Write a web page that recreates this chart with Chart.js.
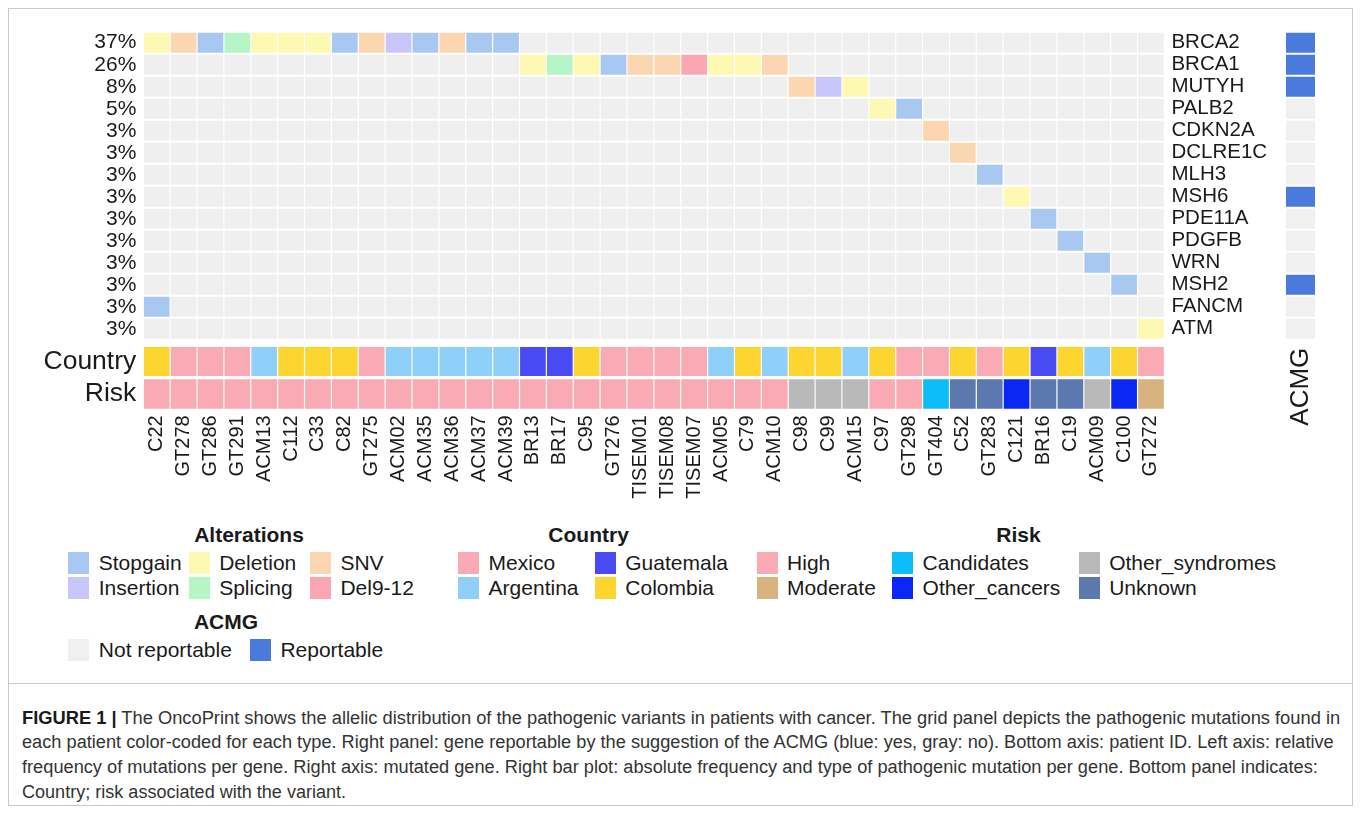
<!DOCTYPE html>
<html>
<head>
<meta charset="utf-8">
<title>OncoPrint</title>
<script src="https://cdn.jsdelivr.net/npm/chart.js@4.4.1/dist/chart.umd.min.js"></script>
<style>
  html, body { margin:0; padding:0; background:#ffffff; }
  body { width:1360px; height:814px; position:relative; overflow:hidden; font-family:"Liberation Sans", Arial, Helvetica, sans-serif; color:#1a1a1a; }
  #frame { position:absolute; left:8px; top:8px; width:1345px; height:798px; border:1px solid #c9c9c9; box-sizing:border-box; }
  #divider { position:absolute; left:8px; top:683px; width:1345px; height:1px; background:#c9c9c9; }
  #mainChart { position:absolute; left:0; top:0; width:1270px; height:520px; }
  #acmgChart { position:absolute; left:1270px; top:0; width:97px; height:440px; }
  .lg-title { position:absolute; font-weight:bold; font-size:21px; line-height:24px; white-space:nowrap; transform:translate(-50%,-50%); }
  .lg-item { position:absolute; height:22px; display:flex; align-items:center; white-space:nowrap; font-size:21px; line-height:22px; transform:translateY(-50%); }
  .lg-key { width:21px; height:22px; margin-right:9.6px; flex:none; }
  .cap-line { position:absolute; left:22px; white-space:nowrap; font-family:"Liberation Sans Narrow","Liberation Sans",Arial,sans-serif; font-size:18px; line-height:22px; color:#333; transform-origin:0 50%; }
  .cap-line b { color:#1a1a1a; }
</style>
</head>
<body>
<div id="frame"></div>
<div id="divider"></div>
<canvas id="mainChart" width="1270" height="520"></canvas>
<canvas id="acmgChart" width="97" height="440"></canvas>
<div id="legends"></div>
<div id="caption"></div>
<script>
// ---------------- DATA ----------------
const patients = ['C22','GT278','GT286','GT291','ACM13','C112','C33','C82','GT275','ACM02','ACM35','ACM36','ACM37','ACM39','BR13','BR17','C95','GT276','TISEM01','TISEM08','TISEM07','ACM05','C79','ACM10','C98','C99','ACM15','C97','GT298','GT404','C52','GT283','C121','BR16','C19','ACM09','C100','GT272'];

const genes = ['BRCA2','BRCA1','MUTYH','PALB2','CDKN2A','DCLRE1C','MLH3','MSH6','PDE11A','PDGFB','WRN','MSH2','FANCM','ATM'];
const geneFrequency = ['37%','26%','8%','5%','3%','3%','3%','3%','3%','3%','3%','3%','3%','3%'];
const acmgStatus = ['Reportable','Reportable','Reportable','Not reportable','Not reportable','Not reportable','Not reportable','Reportable','Not reportable','Not reportable','Not reportable','Reportable','Not reportable','Not reportable'];

// one entry per pathogenic variant
const variantGene = [
  'BRCA2','BRCA2','BRCA2','BRCA2','BRCA2','BRCA2','BRCA2','BRCA2','BRCA2','BRCA2','BRCA2','BRCA2','BRCA2','BRCA2',
  'BRCA1','BRCA1','BRCA1','BRCA1','BRCA1','BRCA1','BRCA1','BRCA1','BRCA1','BRCA1',
  'MUTYH','MUTYH','MUTYH','PALB2','PALB2',
  'CDKN2A','DCLRE1C','MLH3','MSH6','PDE11A','PDGFB','WRN','MSH2','FANCM','ATM'];
const variantPatient = [
  'C22','GT278','GT286','GT291','ACM13','C112','C33','C82','GT275','ACM02','ACM35','ACM36','ACM37','ACM39',
  'BR13','BR17','C95','GT276','TISEM01','TISEM08','TISEM07','ACM05','C79','ACM10',
  'C98','C99','ACM15','C97','GT298',
  'GT404','C52','GT283','C121','BR16','C19','ACM09','C100','C22','GT272'];
const variantType = [
  'Deletion','SNV','Stopgain','Splicing','Deletion','Deletion','Deletion','Stopgain','SNV','Insertion','Stopgain','SNV','Stopgain','Stopgain',
  'Deletion','Splicing','Deletion','Stopgain','SNV','SNV','Del9-12','Deletion','Deletion','SNV',
  'SNV','Insertion','Deletion','Deletion','Stopgain',
  'SNV','SNV','Stopgain','Deletion','Stopgain','Stopgain','Stopgain','Stopgain','Stopgain','Deletion'];

const patientCountry = ['Colombia','Mexico','Mexico','Mexico','Argentina','Colombia','Colombia','Colombia','Mexico','Argentina','Argentina','Argentina','Argentina','Argentina','Guatemala','Guatemala','Colombia','Mexico','Mexico','Mexico','Mexico','Argentina','Colombia','Argentina','Colombia','Colombia','Argentina','Colombia','Mexico','Mexico','Colombia','Mexico','Colombia','Guatemala','Colombia','Argentina','Colombia','Mexico'];
const patientRisk = ['High','High','High','High','High','High','High','High','High','High','High','High','High','High','High','High','High','High','High','High','High','High','High','High','Other_syndromes','Other_syndromes','Other_syndromes','High','High','Candidates','Unknown','Unknown','Other_cancers','Unknown','Unknown','Other_syndromes','Other_cancers','Moderate'];

const alterationLegend = ['Stopgain','Insertion','Deletion','Splicing','SNV','Del9-12'];
const countryLegend = ['Mexico','Argentina','Guatemala','Colombia'];
const riskLegend = ['High','Moderate','Candidates','Other_cancers','Other_syndromes','Unknown'];
const acmgLegend = ['Not reportable','Reportable'];

const captionLines = [
  ['FIGURE 1 |', ' The OncoPrint shows the allelic distribution of the pathogenic variants in patients with cancer. The grid panel depicts the pathogenic mutations found in'],
  ['', 'each patient color-coded for each type. Right panel: gene reportable by the suggestion of the ACMG (blue: yes, gray: no). Bottom axis: patient ID. Left axis: relative'],
  ['', 'frequency of mutations per gene. Right axis: mutated gene. Right bar plot: absolute frequency and type of pathogenic mutation per gene. Bottom panel indicates:'],
  ['', 'Country; risk associated with the variant.']
];

// ---------------- STYLES ----------------
const alterationColors = {Stopgain:'#a8c8f2', Insertion:'#c8c6fa', Deletion:'#fdf8b2', Splicing:'#b6f5c6', SNV:'#fbd6b0', 'Del9-12':'#fba7b3'};
const countryColors = {Mexico:'#f9aab4', Argentina:'#8fd0fa', Guatemala:'#4a4af5', Colombia:'#fcd531'};
const riskColors = {High:'#f9aab4', Moderate:'#d8b27f', Candidates:'#0dbdf9', Other_cancers:'#0b27f5', Other_syndromes:'#b9b9b9', Unknown:'#5b79ae'};
const acmgColors = {'Not reportable':'#f0f0f0', Reportable:'#4a7bdc'};
const EMPTY_CELL = '#efefef';
const TEXT = '#1a1a1a';
const FONT = '"Liberation Sans", Arial, Helvetica, sans-serif';

// ---------------- LAYOUT ----------------
const L = {
  gridTop: 31.7, rowPitch: 22, gap: 1/22,
  countryBand: [14.33, 15.65], riskBand: [15.8, 17.13], yMax: 17.16,
  gridLeft: 143.3, gridRight: 1164.4, canvasW: 1270, canvasH: 520, xAxisH: 520 - 409.3,
  acmgH: 440
};

Chart.defaults.font.family = FONT;
Chart.defaults.color = TEXT;

function alterationOf(gene, patient) {
  for (let k = 0; k < variantGene.length; k++) {
    if (variantGene[k] === gene && variantPatient[k] === patient) return variantType[k];
  }
  return null;
}

const cellBase = { grouped:false, barPercentage:0.956, categoryPercentage:1, borderWidth:0, inflateAmount:0 };

const geneDatasets = genes.map((g, i) => Object.assign({
  label: g,
  data: patients.map(() => [i + L.gap, i + 1 - L.gap]),
  backgroundColor: patients.map(p => { const t = alterationOf(g, p); return t ? alterationColors[t] : EMPTY_CELL; })
}, cellBase));

const countryDataset = Object.assign({
  label: 'Country',
  data: patients.map(() => L.countryBand.slice()),
  backgroundColor: patientCountry.map(c => countryColors[c])
}, cellBase);

const riskDataset = Object.assign({
  label: 'Risk',
  data: patients.map(() => L.riskBand.slice()),
  backgroundColor: patientRisk.map(r => riskColors[r])
}, cellBase);

const leftTickValues = genes.map((g, i) => i + 0.5).concat([
  (L.countryBand[0] + L.countryBand[1]) / 2, (L.riskBand[0] + L.riskBand[1]) / 2]);
const leftTickLabels = geneFrequency.concat(['Country', 'Risk']);

new Chart(document.getElementById('mainChart'), {
  type: 'bar',
  data: { labels: patients, datasets: geneDatasets.concat([countryDataset, riskDataset]) },
  options: {
    responsive: false, animation: false, devicePixelRatio: 1,
    layout: { padding: { top: L.gridTop, left: 0, right: 0, bottom: 0 } },
    plugins: { legend: { display: false }, tooltip: { enabled: false } },
    scales: {
      x: {
        type: 'category', offset: true,
        grid: { display: false, drawTicks: false }, border: { display: false },
        ticks: { autoSkip: false, maxRotation: 90, minRotation: 90, padding: 6, color: TEXT, font: { size: 20 } },
        afterFit(s) { s.height = L.xAxisH; }
      },
      y: {
        type: 'linear', position: 'left', reverse: true, min: 0, max: L.yMax,
        grid: { display: false, drawTicks: false }, border: { display: false },
        afterBuildTicks(s) { s.ticks = leftTickValues.map(v => ({ value: v })); },
        ticks: {
          autoSkip: false, padding: 7, color: TEXT,
          font: (ctx) => ({ size: ctx.index >= genes.length ? 26.5 : 21 }),
          callback: (v, i) => leftTickLabels[i]
        },
        afterFit(s) { s.width = L.gridLeft; }
      },
      y2: {
        type: 'linear', position: 'right', reverse: true, min: 0, max: L.yMax,
        grid: { display: false, drawTicks: false }, border: { display: false },
        afterBuildTicks(s) { s.ticks = genes.map((g, i) => ({ value: i + 0.5 })); },
        ticks: { autoSkip: false, padding: 7, color: TEXT, font: { size: 20.5 }, callback: (v, i) => genes[i] },
        afterFit(s) { s.width = L.canvasW - L.gridRight; }
      }
    }
  }
});

// ACMG side panel (chart area x: 1286..1315 on the page)
new Chart(document.getElementById('acmgChart'), {
  type: 'bar',
  data: {
    labels: ['ACMG'],
    datasets: genes.map((g, i) => ({
      label: g, data: [[i + L.gap, i + 1 - L.gap]],
      backgroundColor: acmgColors[acmgStatus[i]],
      grouped: false, barPercentage: 1, categoryPercentage: 1, borderWidth: 0, inflateAmount: 0
    }))
  },
  options: {
    responsive: false, animation: false, devicePixelRatio: 1,
    layout: { padding: { top: L.gridTop, left: 16, right: 52, bottom: 0 } },
    plugins: { legend: { display: false }, tooltip: { enabled: false } },
    scales: {
      x: {
        grid: { display: false, drawTicks: false }, border: { display: false },
        ticks: { autoSkip: false, maxRotation: 90, minRotation: 90, padding: 8, color: TEXT, font: { size: 26 } },
        afterFit(s) { s.height = L.acmgH - L.gridTop - genes.length * L.rowPitch; }
      },
      y: { display: false, reverse: true, min: 0, max: genes.length }
    }
  }
});

// ---------------- LEGENDS ----------------
const legendBlocks = [
  { title: 'Alterations', items: alterationLegend, colors: alterationColors, tx: 249, ty: 535, cols: [68.2, 188.6, 309.8], rows: [562.8, 587.8] },
  { title: 'Country', items: countryLegend, colors: countryColors, tx: 588.6, ty: 535, cols: [458, 594.7], rows: [562.8, 587.8] },
  { title: 'Risk', items: riskLegend, colors: riskColors, tx: 1018.5, ty: 535, cols: [756.5, 892, 1078.6], rows: [562.8, 587.8] },
  { title: 'ACMG', items: acmgLegend, colors: acmgColors, tx: 226, ty: 621.7, cols: [68.2, 249.8], rows: [650] }
];
const lgRoot = document.getElementById('legends');
legendBlocks.forEach(b => {
  const t = document.createElement('div');
  t.className = 'lg-title'; t.textContent = b.title;
  t.style.left = b.tx + 'px'; t.style.top = b.ty + 'px';
  lgRoot.appendChild(t);
  b.items.forEach((name, k) => {
    const col = Math.floor(k / b.rows.length), row = k % b.rows.length;
    const it = document.createElement('div');
    it.className = 'lg-item';
    it.style.left = b.cols[col] + 'px'; it.style.top = b.rows[row] + 'px';
    const key = document.createElement('span');
    key.className = 'lg-key'; key.style.background = b.colors[name];
    const txt = document.createElement('span'); txt.textContent = name;
    it.appendChild(key); it.appendChild(txt);
    lgRoot.appendChild(it);
  });
});

// ---------------- CAPTION ----------------
const capTargets = [1318, 1312, 1296, 324];
const capCenters = [718.3, 741.7, 766.7, 791.7];
const capRoot = document.getElementById('caption');
captionLines.forEach((ln, i) => {
  const d = document.createElement('div');
  d.className = 'cap-line';
  if (ln[0]) { const b = document.createElement('b'); b.textContent = ln[0]; d.appendChild(b); }
  d.appendChild(document.createTextNode(ln[1]));
  d.style.top = (capCenters[i] - 11) + 'px';
  capRoot.appendChild(d);
  const w = d.offsetWidth;
  d.style.transform = 'scaleX(' + (capTargets[i] / w) + ')';
});
</script>
</body>
</html>
